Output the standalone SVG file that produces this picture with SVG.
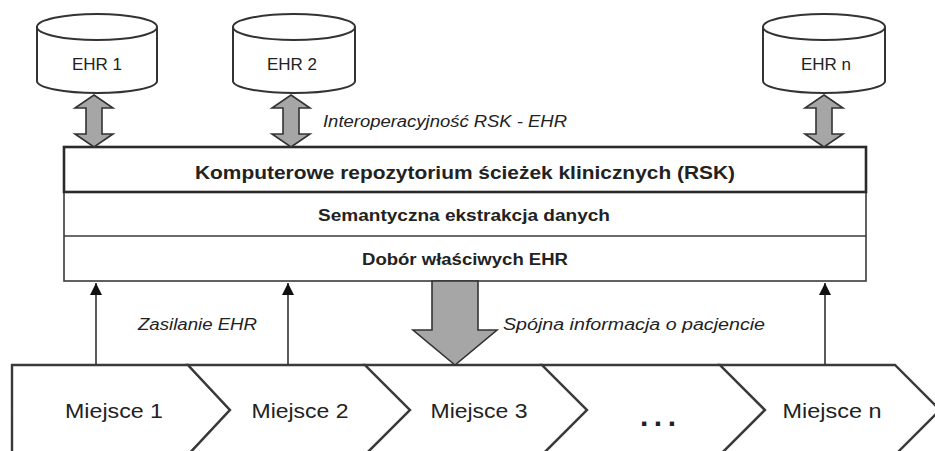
<svg xmlns="http://www.w3.org/2000/svg" width="935" height="451" viewBox="0 0 935 451">
  <style>
    .cyl { fill: #ffffff; stroke: #333333; stroke-width: 2; }
    .dbl { fill: #a6a6a6; stroke: #333333; stroke-width: 1.6; stroke-linejoin: miter; }
    .box { fill: #ffffff; stroke: #3a3a3a; stroke-width: 1.6; }
    .chev { fill: #ffffff; stroke: #3a3a3a; stroke-width: 2.4; stroke-linejoin: miter; }
    .feed { stroke: #333333; stroke-width: 1.6; fill: none; }
    .lbl { font-family: "Liberation Sans", Arial, sans-serif; fill: #222222; }
    .b { font-weight: bold; }
    .i { font-style: italic; }
  </style>
  <defs>
    <marker id="tri" viewBox="0 0 12 12" refX="12" refY="6" markerWidth="12" markerHeight="12" markerUnits="userSpaceOnUse" orient="auto">
      <path d="M0,0 L12,6 L0,12 Z" fill="#111111"/>
    </marker>
    <!-- double-headed block arrow centred on x=0, spanning y 95..147 -->
    <path id="dblArrow" class="dbl" d="M0,95 L19,108 L8,108 L8,134 L19,134 L0,147 L-19,134 L-8,134 L-8,108 L-19,108 Z"/>
  </defs>

  <rect width="935" height="451" fill="#ffffff"/>

  <!-- databases -->
  <g id="ehr1">
    <path class="cyl" d="M37,27 L37,81 A60,12 0 0 0 157,81 L157,27"/>
    <ellipse class="cyl" cx="97" cy="27" rx="60" ry="13"/>
    <text class="lbl" x="97" y="70" font-size="17" text-anchor="middle">EHR 1</text>
  </g>
  <g id="ehr2">
    <path class="cyl" d="M233,27 L233,81 A61,12 0 0 0 355,81 L355,27"/>
    <ellipse class="cyl" cx="294" cy="27" rx="61" ry="13"/>
    <text class="lbl" x="292" y="70" font-size="17" text-anchor="middle">EHR 2</text>
  </g>
  <g id="ehrn">
    <path class="cyl" d="M763,27 L763,81 A61,12 0 0 0 885,81 L885,27"/>
    <ellipse class="cyl" cx="824" cy="27" rx="61" ry="13"/>
    <text class="lbl" x="826" y="70" font-size="17" text-anchor="middle">EHR n</text>
  </g>

  <!-- repository block with its three layers -->
  <g id="rsk">
    <rect class="box" x="64" y="147" width="802" height="134"/>
    <rect x="64" y="147" width="802" height="45" fill="none" stroke="#2a2a2a" stroke-width="2.6"/>
    <line class="box" x1="64" y1="236" x2="866" y2="236"/>
    <text class="lbl b" x="465" y="179" font-size="18" text-anchor="middle" textLength="540" lengthAdjust="spacingAndGlyphs">Komputerowe repozytorium ścieżek klinicznych (RSK)</text>
  </g>
  <g id="semantyka">
    <text class="lbl b" x="464" y="221" font-size="16" text-anchor="middle" textLength="292" lengthAdjust="spacingAndGlyphs">Semantyczna ekstrakcja danych</text>
  </g>
  <g id="dobor">
    <text class="lbl b" x="465" y="265" font-size="16" text-anchor="middle" textLength="206" lengthAdjust="spacingAndGlyphs">Dobór właściwych EHR</text>
  </g>

  <!-- places of care -->
  <g id="miejsce1">
    <path class="chev" d="M12,365 L188,365 L230,410 L188,455 L12,455 Z"/>
    <text class="lbl" x="114" y="418" font-size="20" text-anchor="middle" textLength="98" lengthAdjust="spacingAndGlyphs">Miejsce 1</text>
  </g>
  <g id="miejsce2">
    <path class="chev" d="M188,365 L365,365 L410,410 L365,455 L188,455 L230,410 Z"/>
    <text class="lbl" x="300" y="418" font-size="20" text-anchor="middle" textLength="97" lengthAdjust="spacingAndGlyphs">Miejsce 2</text>
  </g>
  <g id="miejsce3">
    <path class="chev" d="M365,365 L542,365 L587,410 L542,455 L365,455 L410,410 Z"/>
    <text class="lbl" x="479" y="418" font-size="20" text-anchor="middle" textLength="97" lengthAdjust="spacingAndGlyphs">Miejsce 3</text>
  </g>
  <g id="kolejne">
    <path class="chev" d="M542,365 L720,365 L765,410 L720,455 L542,455 L587,410 Z"/>
    <text class="lbl b" x="640" y="426" font-size="30" textLength="36" lengthAdjust="spacing">...</text>
  </g>
  <g id="miejscen">
    <path class="chev" d="M720,365 L895,365 L940,410 L895,455 L720,455 L765,410 Z"/>
    <text class="lbl" x="832" y="418" font-size="20" text-anchor="middle" textLength="99" lengthAdjust="spacingAndGlyphs">Miejsce n</text>
  </g>

  <!-- connectors -->
  <g id="connectors">
    <use href="#dblArrow" x="94"/>
    <use href="#dblArrow" x="291"/>
    <use href="#dblArrow" x="824"/>
    <line class="feed" x1="96" y1="365" x2="96" y2="283" marker-end="url(#tri)"/>
    <line class="feed" x1="288" y1="365" x2="288" y2="283" marker-end="url(#tri)"/>
    <line class="feed" x1="825" y1="365" x2="825" y2="283" marker-end="url(#tri)"/>
    <path class="dbl" d="M432,281 L478,281 L478,330 L497,330 L455,365 L413,330 L432,330 Z"/>
  </g>

  <!-- connector labels -->
  <text class="lbl i" x="323" y="127" font-size="16" textLength="244" lengthAdjust="spacingAndGlyphs">Interoperacyjność RSK - EHR</text>
  <text class="lbl i" x="138" y="330" font-size="16" textLength="119" lengthAdjust="spacingAndGlyphs">Zasilanie EHR</text>
  <text class="lbl i" x="503" y="330" font-size="16" textLength="262" lengthAdjust="spacingAndGlyphs">Spójna informacja o pacjencie</text>
</svg>
